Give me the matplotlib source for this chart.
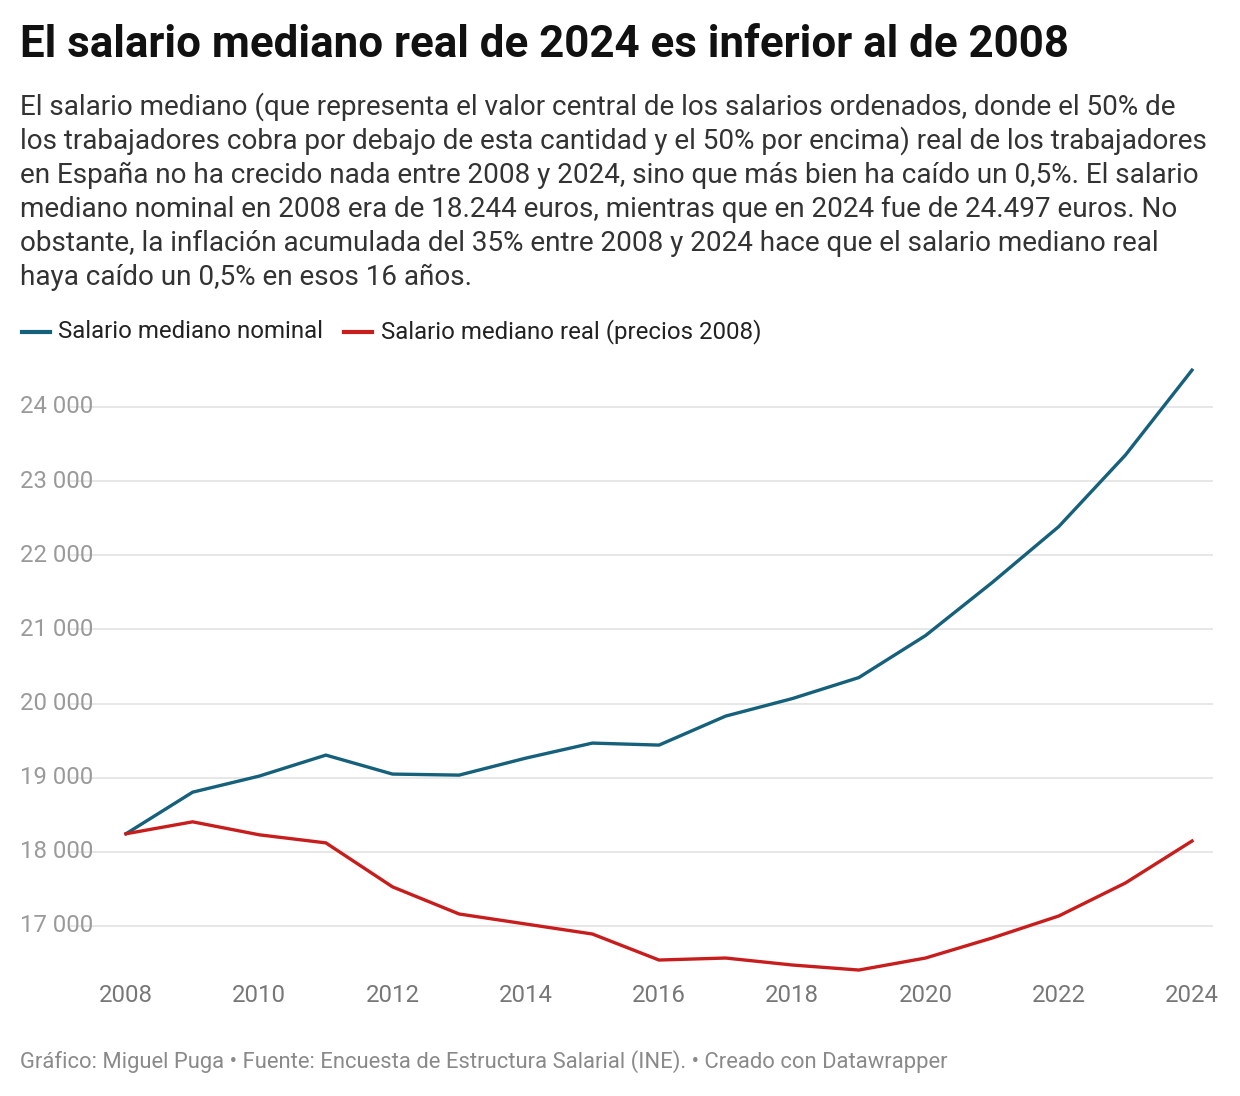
import matplotlib
matplotlib.use("Agg")
import matplotlib.pyplot as plt
from matplotlib.transforms import blended_transform_factory

plt.rcParams['font.family'] = ['Roboto', 'DejaVu Sans']

years = list(range(2008, 2025))
nominal = [18244, 18805, 19022, 19305, 19049, 19035, 19264, 19467, 19440,
           19831, 20067, 20351, 20917, 21632, 22387, 23351, 24497]
real = [18244, 18405, 18230, 18121, 17528, 17162, 17027, 16892, 16541,
        16568, 16474, 16406, 16568, 16838, 17135, 17580, 18146]
yticks = [17000, 18000, 19000, 20000, 21000, 22000, 23000, 24000]
xticks = [2008, 2010, 2012, 2014, 2016, 2018, 2020, 2022, 2024]

title = "El salario mediano real de 2024 es inferior al de 2008"
subtitle_lines = [
    "El salario mediano (que representa el valor central de los salarios ordenados, donde el 50% de",
    "los trabajadores cobra por debajo de esta cantidad y el 50% por encima) real de los trabajadores",
    "en España no ha crecido nada entre 2008 y 2024, sino que más bien ha caído un 0,5%. El salario",
    "mediano nominal en 2008 era de 18.244 euros, mientras que en 2024 fue de 24.497 euros. No",
    "obstante, la inflación acumulada del 35% entre 2008 y 2024 hace que el salario mediano real",
    "haya caído un 0,5% en esos 16 años.",
]
legend_labels = ["Salario mediano nominal", "Salario mediano real (precios 2008)"]
footer = "Gráfico: Miguel Puga • Fuente: Encuesta de Estructura Salarial (INE). • Creado con Datawrapper"

W, H = 1240, 1096
fig = plt.figure(figsize=(W / 100, H / 100), dpi=100)
fig.patch.set_facecolor("white")

def fx(px):
    return px / W

def fy(py):
    return 1 - py / H

c_nom = "#15607a"
c_real = "#c71e1d"

# axes
ax_l, ax_r, ax_t, ax_b = 70, 1213, 365, 975
ax = fig.add_axes([fx(ax_l), fy(ax_b), fx(ax_r - ax_l), (ax_b - ax_t) / H])
px_per_year = (1192 - 126) / 16
ax.set_xlim(2008 - (126 - ax_l) / px_per_year, 2024 + (ax_r - 1192) / px_per_year)
px_per_unit = (926 - 407) / 7000
ax.set_ylim(17000 - (ax_b - 926) / px_per_unit, 24000 + (407 - ax_t) / px_per_unit)

for s in ax.spines.values():
    s.set_visible(False)
ax.set_xticks([])
ax.set_yticks([])
ax.patch.set_alpha(0)

for yv in yticks:
    ax.axhline(yv, color="#e3e3e3", lw=1.2, zorder=1)

ax.plot(years, nominal, color=c_nom, lw=2.4, zorder=3, solid_joinstyle="miter")
ax.plot(years, real, color=c_real, lw=2.4, zorder=3, solid_joinstyle="miter")

tr = blended_transform_factory(fig.transFigure, ax.transData)
for yv in yticks:
    lab = f"{yv // 1000} {yv % 1000:03d}"
    ax.text(fx(20), yv, lab, transform=tr, ha="left", va="center",
            fontsize=17.2, color="#9a9a9a")

trx = blended_transform_factory(ax.transData, fig.transFigure)
for xv in xticks:
    ax.text(xv, fy(996), str(xv), transform=trx, ha="center", va="center",
            fontsize=17.2, color="#777777")

# title
fig.text(fx(20), fy(45), title, ha="left", va="center", fontsize=31.6,
         fontweight="bold", color="#111111")
for i, line in enumerate(subtitle_lines):
    fig.text(fx(20), fy(107 + 34 * i), line, ha="left", va="center",
             fontsize=20.1, color="#333333")

# legend
leg_y = fy(332)
fig.add_artist(plt.Line2D([fx(22), fx(50)], [leg_y, leg_y], color=c_nom, lw=3,
                          transform=fig.transFigure))
fig.text(fx(58), leg_y, legend_labels[0], ha="left", va="center", fontsize=17.3,
         color="#222222")
fig.add_artist(plt.Line2D([fx(344), fx(372)], [leg_y, leg_y], color=c_real, lw=3,
                          transform=fig.transFigure))
fig.text(fx(381), leg_y, legend_labels[1], ha="left", va="center", fontsize=17.3,
         color="#222222")

fig.text(fx(20), fy(1062), footer, ha="left", va="center", fontsize=15.8,
         color="#8a8a8a")

fig.savefig("out.png", dpi=100, facecolor="white")
